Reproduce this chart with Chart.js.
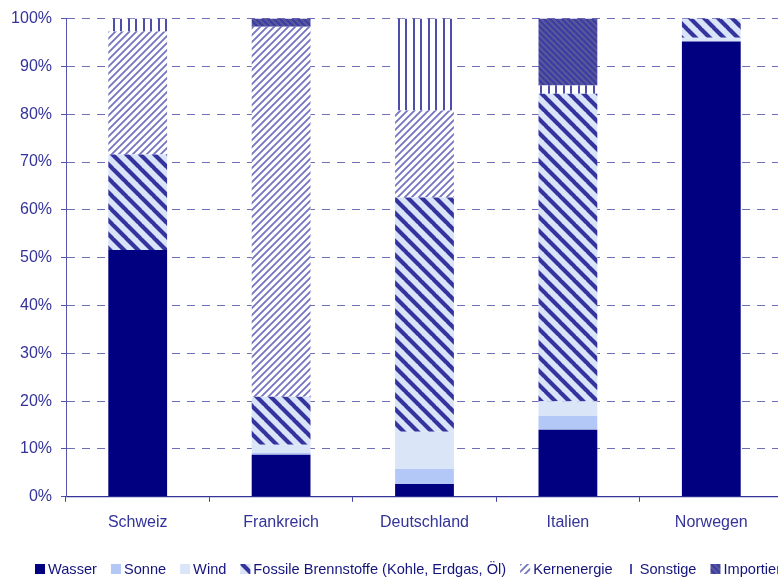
<!DOCTYPE html>
<html>
<head>
<meta charset="utf-8">
<script src="https://cdn.jsdelivr.net/npm/chart.js@4.4.1/dist/chart.umd.min.js"></script>
<style>
  html, body { margin: 0; padding: 0; background: #fff; overflow: hidden; }
  #wrap { width: 790px; height: 579px; }
</style>
</head>
<body>
<div id="wrap"><canvas id="myChart" width="790" height="579"></canvas></div>
<script>
/* globals Chart:false */

// Stromproduktion nach Quelle, Anteil in %
const laender = ['Schweiz', 'Frankreich', 'Deutschland', 'Italien', 'Norwegen']
const wasser = [51.6, 8.8, 2.7, 14.0, 95.2]
const sonne = [0, 0.4, 3.1, 2.9, 0]
const wind = [0, 1.7, 7.8, 3.1, 0.8]
const fossil = [20.0, 10.0, 49.0, 64.3, 4.0]
const kern = [25.7, 77.4, 18.2, 0, 0]
const sonstige = [2.7, 0, 19.2, 1.7, 0]
const importiert = [0, 1.7, 0, 14.0, 0]
const yTicks = [0, 10, 20, 30, 40, 50, 60, 70, 80, 90, 100]

;(() => {
  'use strict'

  const FONT = "'Liberation Sans', Arial, sans-serif"
  const BLUE_TEXT = '#333399'

  // small tiles used as fill patterns
  function makePattern(w, h, draw) {
    const c = document.createElement('canvas')
    c.width = w
    c.height = h
    const g = c.getContext('2d')
    draw(g, w, h)
    return g.createPattern(c, 'repeat')
  }

  function diagonal(bg, fg, size, width, dir) {
    return makePattern(size, size, (g, w, h) => {
      g.fillStyle = bg
      g.fillRect(0, 0, w, h)
      g.strokeStyle = fg
      g.lineWidth = width
      g.beginPath()
      for (let o = -w; o <= w; o += w) {
        if (dir === '\\') {
          g.moveTo(o - 1, -1)
          g.lineTo(o + w + 1, h + 1)
        } else {
          g.moveTo(o - 1, h + 1)
          g.lineTo(o + w + 1, -1)
        }
      }
      g.stroke()
    })
  }

  const fossilFill = diagonal('#dae4f8', '#34349f', 14, 4.2, '\\')
  const kernFill = diagonal('#ffffff', '#7373c2', 7, 1.8, '/')
  const importFill = diagonal('#3c3ca4', '#58589a', 6, 2.2, '\\')
  const sonstigeFill = makePattern(15, 4, (g, w, h) => {
    g.fillStyle = '#ffffff'
    g.fillRect(0, 0, w, h)
    g.fillStyle = '#4d4dab'
    g.fillRect(0, 0, 2, h)
    g.fillRect(8, 0, 2, h)
  })

  const series = [
    { label: 'Wasser', data: wasser, backgroundColor: '#000080' },
    { label: 'Sonne', data: sonne, backgroundColor: '#b4c8f8' },
    { label: 'Wind', data: wind, backgroundColor: '#dbe5f8' },
    { label: 'Fossile Brennstoffe (Kohle, Erdgas, Öl)', data: fossil, backgroundColor: fossilFill },
    { label: 'Kernenergie', data: kern, backgroundColor: kernFill },
    { label: 'Sonstige', data: sonstige, backgroundColor: sonstigeFill },
    { label: 'Importiert', data: importiert, backgroundColor: importFill }
  ]

  // legend in one row along the bottom edge
  const bottomLegend = {
    id: 'bottomLegend',
    afterDraw(chart) {
      const ctx = chart.ctx
      ctx.save()
      ctx.font = '14.6px ' + FONT
      ctx.textBaseline = 'middle'
      let x = 35
      const y = 569
      chart.data.datasets.forEach(ds => {
        ctx.fillStyle = ds.backgroundColor
        ctx.fillRect(x, y - 5, 10, 10)
        ctx.fillStyle = '#14147e'
        ctx.fillText(ds.label, x + 13, y + 1)
        x += 13 + ctx.measureText(ds.label).width + 14
      })
      ctx.restore()
    }
  }

  const ctx = document.getElementById('myChart')
  // eslint-disable-next-line no-unused-vars
  const myChart = new Chart(ctx, {
    type: 'bar',
    data: {
      labels: laender,
      datasets: series.map(s => Object.assign({
        borderWidth: 0,
        categoryPercentage: 1,
        barPercentage: 0.41
      }, s))
    },
    options: {
      responsive: false,
      animation: false,
      layout: {
        padding: { top: 17, right: 7, bottom: 36, left: 0 }
      },
      plugins: {
        legend: { display: false },
        tooltip: { enabled: false }
      },
      scales: {
        x: {
          stacked: true,
          grid: {
            offset: true,
            drawOnChartArea: false,
            tickLength: 5,
            color: '#4444a6'
          },
          border: { color: '#333399', width: 1.2 },
          ticks: {
            color: BLUE_TEXT,
            padding: 11,
            font: { family: FONT, size: 16 }
          }
        },
        y: {
          stacked: true,
          min: 0,
          max: 100,
          afterFit(scale) { scale.width = 66 },
          afterBuildTicks(scale) { scale.ticks = yTicks.map(v => ({ value: v })) },
          grid: {
            color: c => (c.tick && c.tick.value === 0) ? 'rgba(0,0,0,0)' : '#6e6eb8',
            tickColor: '#5555ad',
            tickLength: 5
          },
          border: { color: '#5555ad', width: 1, dash: [8, 7] },
          ticks: {
            color: BLUE_TEXT,
            padding: 9,
            font: { family: FONT, size: 16 },
            callback: v => v + '%'
          }
        }
      }
    },
    plugins: [bottomLegend]
  })
})()
</script>
</body>
</html>
